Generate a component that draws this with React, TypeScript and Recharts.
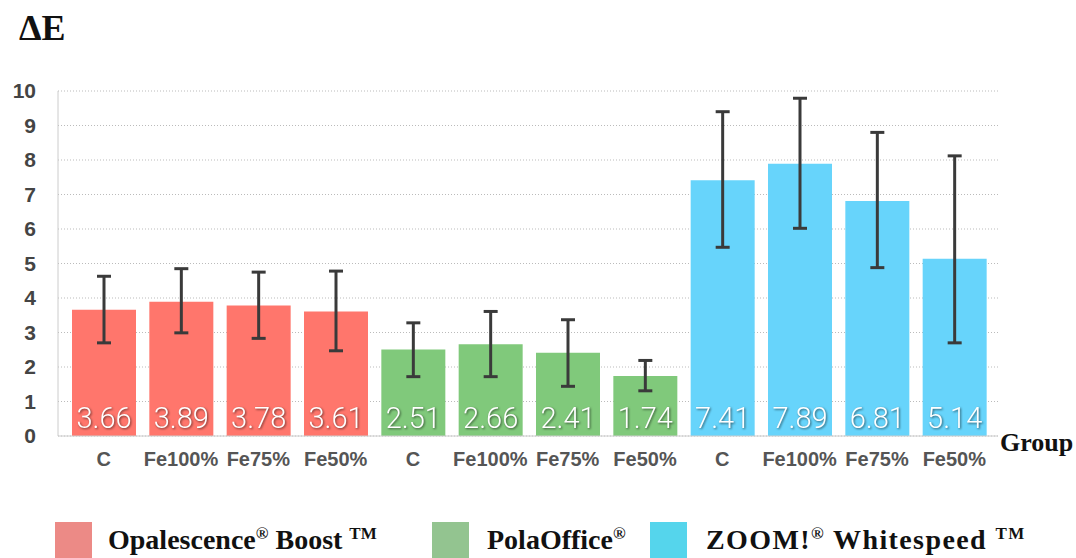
import React from 'react';
import { BarChart, Bar, XAxis, YAxis, CartesianGrid, ErrorBar, Cell, LabelList } from 'recharts';

const groups = ['Opalescence', 'PolaOffice', 'ZOOM!'];
const treatments = ['C', 'Fe100%', 'Fe75%', 'Fe50%'];

const opalMeans = [3.66, 3.89, 3.78, 3.61];
const polaMeans = [2.51, 2.66, 2.41, 1.74];
const zoomMeans = [7.41, 7.89, 6.81, 5.14];

// lower / upper error lengths
const opalErrLow = [0.96, 0.9, 0.95, 1.14];
const opalErrHigh = [0.97, 0.96, 0.97, 1.17];
const polaErrLow = [0.79, 0.94, 0.97, 0.43];
const polaErrHigh = [0.77, 0.95, 0.96, 0.45];
const zoomErrLow = [1.94, 1.87, 1.93, 2.44];
const zoomErrHigh = [1.99, 1.9, 1.99, 2.98];

const yTicks = [0, 1, 2, 3, 4, 5, 6, 7, 8, 9, 10];

const BAR_COLORS = ['#FF766C', '#80C97B', '#67D4FB'];
const LEGEND_COLORS = ['#EC8A86', '#93C490', '#55D5EC'];

const means = [opalMeans, polaMeans, zoomMeans];
const errLow = [opalErrLow, polaErrLow, zoomErrLow];
const errHigh = [opalErrHigh, polaErrHigh, zoomErrHigh];

const data = groups.flatMap((g, gi) =>
  treatments.map((t, ti) => ({
    key: `${g}|${t}`,
    label: t,
    group: gi,
    mean: means[gi][ti],
    err: [errLow[gi][ti], errHigh[gi][ti]],
  }))
);

const serif = '"Liberation Serif", "Times New Roman", serif';
const sans = '"Liberation Sans", Arial, Helvetica, sans-serif';

const ValueLabel = (props: any) => {
  const { x, y, width, height, value } = props;
  return (
    <text
      x={x + width / 2}
      y={y + height - 8}
      textAnchor="middle"
      fill="#fff"
      fontSize={29}
      fontWeight={300}
      fontFamily='Roboto, "Liberation Sans", sans-serif'
      style={{ filter: 'drop-shadow(1px 1px 1px rgba(0,0,0,0.55))' }}
    >
      {Number(value).toFixed(2)}
    </text>
  );
};

const legendItems = [
  { color: LEGEND_COLORS[0], sq: 55, tx: 108, main: 'Opalescence', sup1: '®', mid: ' Boost ', sup2: 'TM', ls: 0 },
  { color: LEGEND_COLORS[1], sq: 432, tx: 487, main: 'PolaOffice', sup1: '®', mid: '', sup2: '', ls: 0 },
  { color: LEGEND_COLORS[2], sq: 650, tx: 706, main: 'ZOOM!', sup1: '®', mid: ' Whitespeed ', sup2: 'TM', ls: 1.4 },
];

export default function App() {
  return (
    <div style={{ position: 'absolute', top: 0, left: 0, width: 1076, height: 558, background: '#fff', overflow: 'hidden' }}>
      <div style={{ position: 'absolute', left: 19, top: 8, fontFamily: serif, fontWeight: 700, fontSize: 36, color: '#111', lineHeight: '40px' }}>ΔE</div>
      <div style={{ position: 'absolute', left: 1000, top: 428, fontFamily: serif, fontWeight: 700, fontSize: 26, color: '#111', lineHeight: '30px' }}>Group</div>
      <BarChart
        width={1076}
        height={558}
        data={data}
        margin={{ top: 91, right: 78, bottom: 92, left: 8 }}
        barSize={64}
      >
        <CartesianGrid vertical={false} stroke="#bbb" strokeDasharray="1 2" />
        <XAxis
          dataKey="key"
          interval={0}
          height={30}
          padding={{ left: 7, right: 5 }}
          tickLine={false}
          tickSize={0}
          tickMargin={16}
          axisLine={{ stroke: '#ccc' }}
          tickFormatter={(v: string) => v.split('|')[1]}
          tick={{ fill: '#555', fontSize: 20, fontWeight: 700, fontFamily: sans }}
        />
        <YAxis
          domain={[0, 10]}
          ticks={yTicks}
          width={50}
          tickLine={false}
          tickSize={0}
          tickMargin={22}
          axisLine={{ stroke: '#ccc' }}
          tick={{ fill: '#444', fontSize: 21, fontWeight: 700, fontFamily: sans }}
        />
        <Bar dataKey="mean" isAnimationActive={false}>
          {data.map((d) => (
            <Cell key={d.key} fill={BAR_COLORS[d.group]} />
          ))}
          <ErrorBar dataKey="err" direction="y" width={7} strokeWidth={3} stroke="#3a3a3a" />
          <LabelList dataKey="mean" content={ValueLabel} />
        </Bar>
      </BarChart>
      {legendItems.map((it) => (
        <React.Fragment key={it.main}>
          <div style={{ position: 'absolute', left: it.sq, top: 522, width: 37, height: 40, background: it.color }} />
          <div style={{ position: 'absolute', left: it.tx, top: 517, fontFamily: serif, fontWeight: 700, fontSize: 28, color: '#111', whiteSpace: 'nowrap', lineHeight: '34px', letterSpacing: it.ls }}>
            {it.main}
            <sup style={{ fontSize: 17 }}>{it.sup1}</sup>
            {it.mid}
            {it.sup2 && <sup style={{ fontSize: 17 }}>{it.sup2}</sup>}
          </div>
        </React.Fragment>
      ))}
    </div>
  );
}
